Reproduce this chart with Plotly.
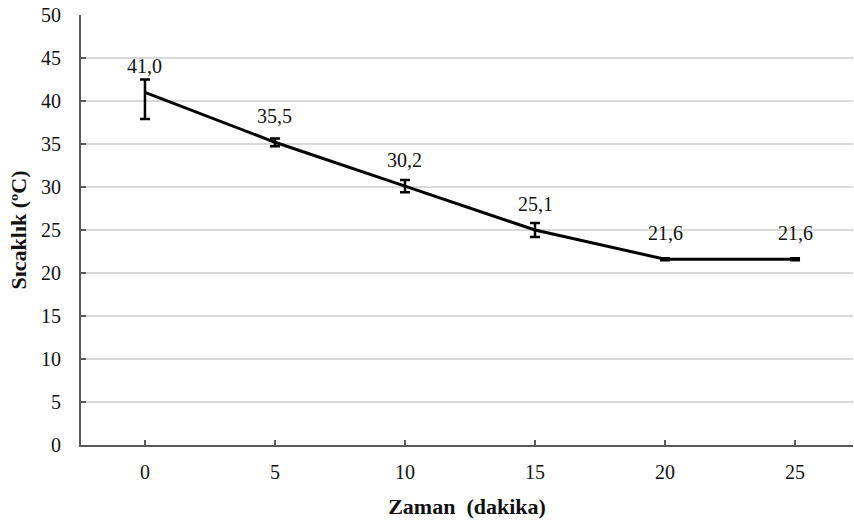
import plotly.graph_objects as go

zaman = [0, 5, 10, 15, 20, 25]
sicaklik = [41.0, 35.2, 30.1, 25.0, 21.6, 21.6]
hata_arti = [1.5, 0.45, 0.72, 0.8, 0.12, 0.12]
hata_eksi = [3.1, 0.45, 0.72, 0.8, 0.12, 0.12]
etiketler = ["41,0", "35,5", "30,2", "25,1", "21,6", "21,6"]
x_ticks = [0, 5, 10, 15, 20, 25]
y_ticks = [0, 5, 10, 15, 20, 25, 30, 35, 40, 45, 50]

FONT = "Liberation Serif"
AX = "#595959"

fig = go.Figure()
fig.add_trace(go.Scatter(
    x=zaman, y=sicaklik, mode="lines",
    line=dict(color="black", width=3),
    error_y=dict(type="data", symmetric=False, array=hata_arti, arrayminus=hata_eksi,
                 color="black", thickness=2.5, width=5),
    showlegend=False, hoverinfo="skip",
))

for xv, yv, t in zip(zaman, sicaklik, etiketler):
    fig.add_annotation(x=xv, y=yv, text=t, showarrow=False, yshift=26,
                       font=dict(family=FONT, size=20, color="#111111"))

fig.update_layout(
    width=854, height=521,
    margin=dict(l=81, r=1, t=15, b=76),
    paper_bgcolor="white", plot_bgcolor="white",
    font=dict(family=FONT, size=20, color="#111111"),
    xaxis=dict(
        range=[-2.46, 27.23], tickvals=x_ticks, ticktext=[str(v) for v in x_ticks],
        showgrid=False, zeroline=False, automargin=False,
        showline=True, linecolor=AX, linewidth=2,
        ticks="inside", ticklen=5, tickwidth=2, tickcolor=AX,
        tickfont=dict(family=FONT, size=20, color="#111111"),
        ticklabelstandoff=8,
        title=dict(text="<b>Zaman  (dakika)</b>", font=dict(family=FONT, size=22, color="#111111"), standoff=17),
    ),
    yaxis=dict(
        range=[0, 50], tickvals=y_ticks,
        showgrid=True, gridcolor="#d9d9d9", gridwidth=1.5,
        zeroline=False, automargin=False,
        showline=True, linecolor=AX, linewidth=2,
        ticks="inside", ticklen=5, tickwidth=2, tickcolor=AX,
        tickfont=dict(family=FONT, size=20, color="#111111"),
        ticklabelstandoff=14,
        title=dict(text="<b>Sıcaklık (ºC)</b>", font=dict(family=FONT, size=22, color="#111111"), standoff=8),
    ),
)

fig.write_html("out.html", config={"displayModeBar": False},
               post_script="document.body.style.margin='0';document.body.style.padding='0';")
